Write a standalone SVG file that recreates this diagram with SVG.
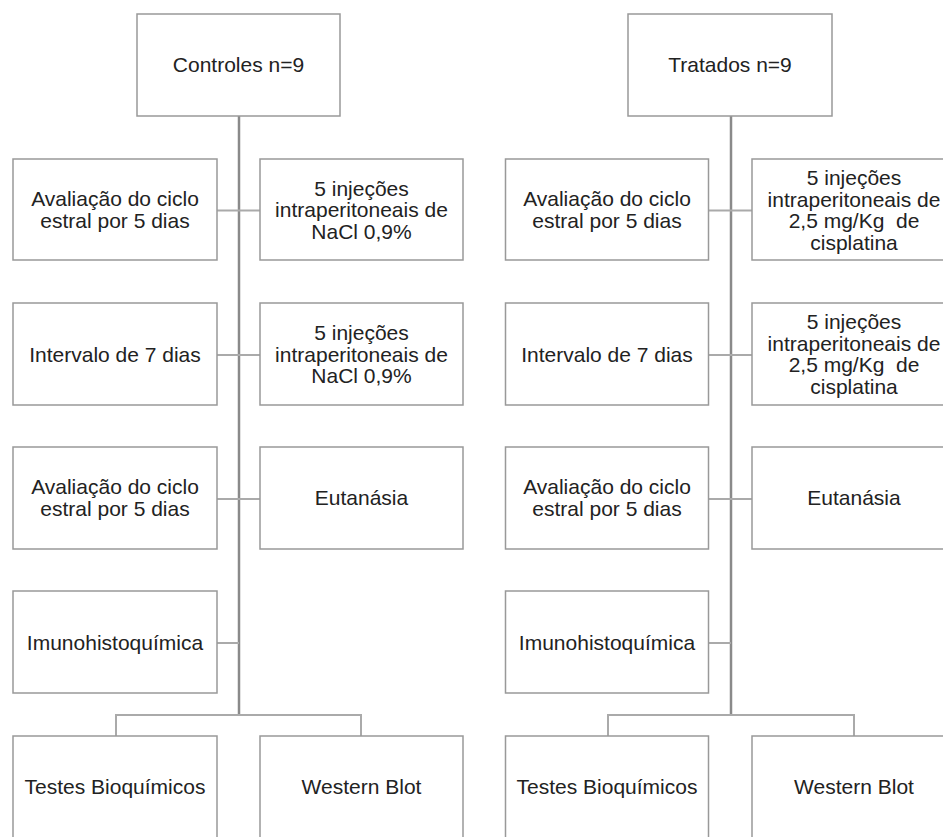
<svg xmlns="http://www.w3.org/2000/svg" width="943" height="837" viewBox="0 0 943 837">
<style>
.box{fill:#fff;stroke:#999;stroke-width:1.5}
.trunk{stroke:#8a8a8a;stroke-width:2.5;fill:none}
.con{stroke:#aaa;stroke-width:2;fill:none}
text{font-family:"Liberation Sans",Arial,sans-serif;font-size:21px;fill:#222;text-anchor:middle;white-space:pre}
</style>
<rect width="943" height="837" fill="#fff"/>
<g id="connectors">
<path class="trunk" d="M239 116V715"/>
<path class="con" d="M217 210.5H260M217 355H260M217 499H260M217 643H239M116 715H361M116 714V736M361 714V736"/>
<path class="trunk" d="M731 116V715"/>
<path class="con" d="M709 210.5H752M709 355H752M709 499H752M709 643H731M608 715H854M608 714V736M854 714V736"/>
</g>
<g id="controles"><rect class="box" x="137" y="14" width="203" height="102"/><text x="238.5" y="72">Controles n=9</text></g>
<g id="c_aval1"><rect class="box" x="13" y="159" width="204" height="101"/><text x="115" y="206">Avaliação do ciclo</text><text x="115" y="227.5">estral por 5 dias</text></g>
<g id="c_inj1"><rect class="box" x="260" y="159" width="203" height="101"/><text x="361.5" y="195.5">5 injeções</text><text x="361.5" y="217">intraperitoneais de</text><text x="361.5" y="238.5">NaCl 0,9%</text></g>
<g id="c_interv"><rect class="box" x="13" y="303" width="204" height="102"/><text x="115" y="361.5">Intervalo de 7 dias</text></g>
<g id="c_inj2"><rect class="box" x="260" y="303" width="203" height="102"/><text x="361.5" y="340">5 injeções</text><text x="361.5" y="361.5">intraperitoneais de</text><text x="361.5" y="383">NaCl 0,9%</text></g>
<g id="c_aval2"><rect class="box" x="13" y="447" width="204" height="102"/><text x="115" y="494">Avaliação do ciclo</text><text x="115" y="515.5">estral por 5 dias</text></g>
<g id="c_eut"><rect class="box" x="260" y="447" width="203" height="102"/><text x="361.5" y="505">Eutanásia</text></g>
<g id="c_imuno"><rect class="box" x="13" y="591" width="204" height="102"/><text x="115" y="649.5">Imunohistoquímica</text></g>
<g id="c_testes"><rect class="box" x="13" y="736" width="204" height="102"/><text x="115" y="794">Testes Bioquímicos</text></g>
<g id="c_western"><rect class="box" x="260" y="736" width="203" height="102"/><text x="361.5" y="794">Western Blot</text></g>
<g id="tratados"><rect class="box" x="628" y="14" width="204" height="102"/><text x="730" y="72">Tratados n=9</text></g>
<g id="t_aval1"><rect class="box" x="505.5" y="159" width="203" height="101"/><text x="607" y="206">Avaliação do ciclo</text><text x="607" y="227.5">estral por 5 dias</text></g>
<g id="t_inj1"><rect class="box" x="752" y="159" width="204" height="101"/><text x="854" y="185">5 injeções</text><text x="854" y="206.5">intraperitoneais de</text><text x="854" y="228">2,5 mg/Kg  de</text><text x="854" y="249.5">cisplatina</text></g>
<g id="t_interv"><rect class="box" x="505.5" y="303" width="203" height="102"/><text x="607" y="361.5">Intervalo de 7 dias</text></g>
<g id="t_inj2"><rect class="box" x="752" y="303" width="204" height="102"/><text x="854" y="329">5 injeções</text><text x="854" y="350.5">intraperitoneais de</text><text x="854" y="372">2,5 mg/Kg  de</text><text x="854" y="393.5">cisplatina</text></g>
<g id="t_aval2"><rect class="box" x="505.5" y="447" width="203" height="102"/><text x="607" y="494">Avaliação do ciclo</text><text x="607" y="515.5">estral por 5 dias</text></g>
<g id="t_eut"><rect class="box" x="752" y="447" width="204" height="102"/><text x="854" y="505">Eutanásia</text></g>
<g id="t_imuno"><rect class="box" x="505.5" y="591" width="203" height="102"/><text x="607" y="649.5">Imunohistoquímica</text></g>
<g id="t_testes"><rect class="box" x="505.5" y="736" width="203" height="102"/><text x="607" y="794">Testes Bioquímicos</text></g>
<g id="t_western"><rect class="box" x="752" y="736" width="204" height="102"/><text x="854" y="794">Western Blot</text></g>
</svg>
